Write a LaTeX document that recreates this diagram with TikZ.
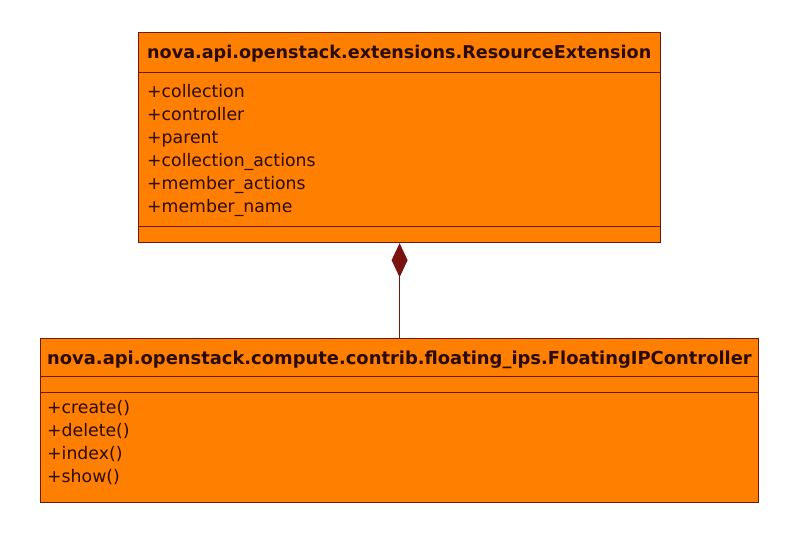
\documentclass[tikz,border=0pt]{standalone}
\usepackage{fontspec}
\setmainfont{DejaVu Sans}
\usetikzlibrary{arrows.meta}
\definecolor{umlfill}{HTML}{FF8000}
\definecolor{umlline}{HTML}{6A1A08}
\definecolor{umltext}{HTML}{2A0A02}
\definecolor{diam}{HTML}{7A1212}
\tikzset{
  classbox/.style={draw=umlline, fill=umlfill, line width=1.2pt, inner sep=0pt, anchor=north west},
  title/.style={anchor=base west, inner sep=0pt, text=umltext, font=\bfseries\fontsize{17.6}{20}\selectfont},
  member/.style={anchor=base west, inner sep=0pt, text=umltext, font=\fontsize{17.3}{20}\selectfont},
  sep/.style={draw=umlline, line width=1pt},
  compo/.style={draw=umlline, line width=1.2pt, {Diamond[length=34pt,width=16pt,fill=diam,color=diam]}-}
}
\begin{document}
\begin{tikzpicture}[x=1pt,y=-1pt]
\useasboundingbox (0,0) rectangle (792,536);
% top class
\node[classbox, minimum width=522pt, minimum height=210pt] (top) at (138,32) {};
\draw[sep] (138,72) -- (660,72);
\draw[sep] (138,226) -- (660,226);
\node[title] (t1) at (147,58) {nova.api.openstack.extensions.ResourceExtension};
\node[member] (a1) at (147,97) {+collection};
\node[member] (a2) at (147,120) {+controller};
\node[member] (a3) at (147,143) {+parent};
\node[member] (a4) at (147,166) {+collection\_actions};
\node[member] (a5) at (147,189) {+member\_actions};
\node[member] (a6) at (147,212) {+member\_name};
% bottom class
\node[classbox, minimum width=718pt, minimum height=164pt] (bot) at (40,338) {};
\draw[sep] (40,376) -- (758,376);
\draw[sep] (40,392) -- (758,392);
\node[title, font=\bfseries\fontsize{17.9}{20}\selectfont] (t2) at (47,364) {nova.api.openstack.compute.contrib.floating\_ips.FloatingIPController};
\node[member] (m1) at (47,413) {+create()};
\node[member] (m2) at (47,436) {+delete()};
\node[member] (m3) at (47,459) {+index()};
\node[member] (m4) at (47,482) {+show()};
% composition
\draw[compo] (top.south) -- (top.south |- bot.north);
\end{tikzpicture}
\end{document}
